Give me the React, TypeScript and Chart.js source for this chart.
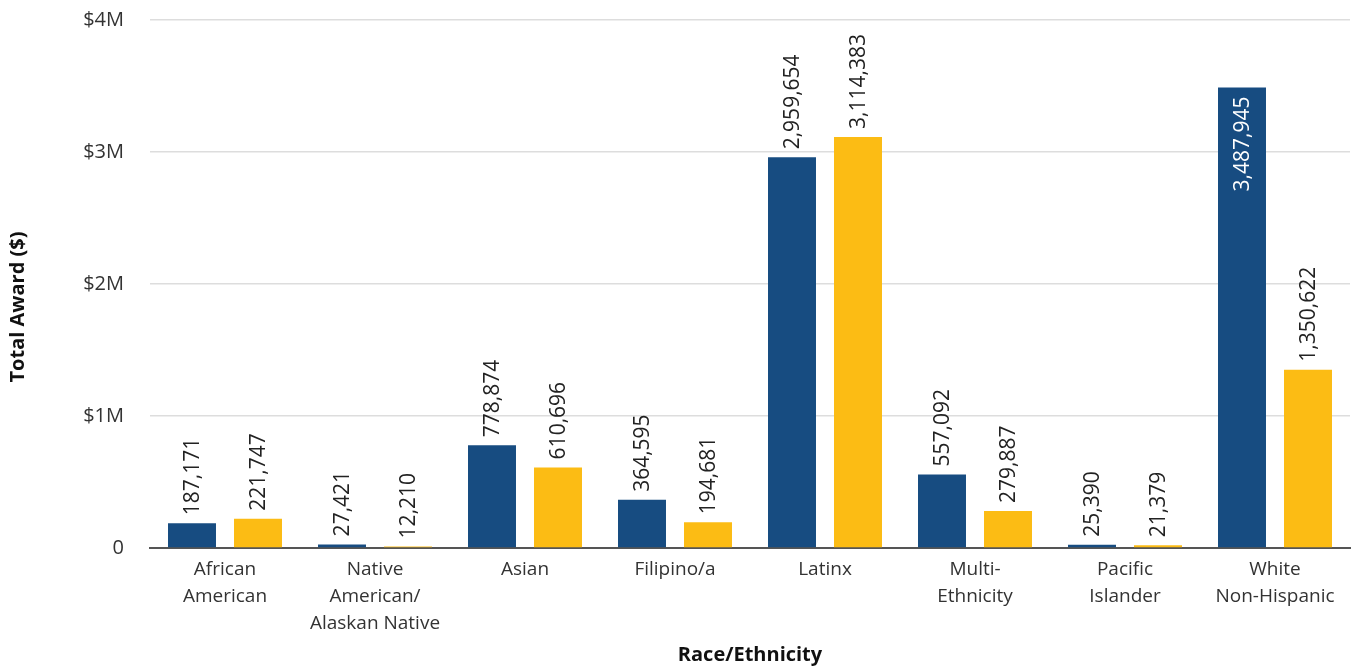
import React, { useEffect, useRef } from "react";
import { Chart, registerables } from "chart.js";

Chart.register(...registerables);

const categories: string[][] = [
  ["African", "American"],
  ["Native", "American/", "Alaskan Native"],
  ["Asian"],
  ["Filipino/a"],
  ["Latinx"],
  ["Multi-", "Ethnicity"],
  ["Pacific", "Islander"],
  ["White", "Non-Hispanic"],
];
const seriesNavy: number[] = [187171, 27421, 778874, 364595, 2959654, 557092, 25390, 3487945];
const seriesGold: number[] = [221747, 12210, 610696, 194681, 3114383, 279887, 21379, 1350622];
const yTickValues: number[] = [0, 1000000, 2000000, 3000000, 4000000];
const yTickLabels: string[] = ["0", "$1M", "$2M", "$3M", "$4M"];
const xTitle = "Race/Ethnicity";
const yTitle = "Total Award ($)";

const NAVY = "#174c81";
const GOLD = "#fcbc14";
const FONT = "'Open Sans', 'Noto Sans', sans-serif";

const labelPlugin = {
  id: "barLabels",
  afterDatasetsDraw(chart: any) {
    const ctx = chart.ctx;
    const area = chart.chartArea;
    ctx.save();
    ctx.font = `400 21px ${FONT}`;
    ctx.textBaseline = "middle";
    chart.data.datasets.forEach((ds: any, di: number) => {
      const meta = chart.getDatasetMeta(di);
      meta.data.forEach((bar: any, i: number) => {
        const v = ds.data[i] as number;
        const text = v.toLocaleString("en-US");
        const w = ctx.measureText(text).width;
        ctx.save();
        if (bar.y - 8 - w < area.top) {
          ctx.translate(bar.x, bar.y + 9);
          ctx.rotate(-Math.PI / 2);
          ctx.textAlign = "right";
          ctx.fillStyle = "#ffffff";
        } else {
          ctx.translate(bar.x, bar.y - 8);
          ctx.rotate(-Math.PI / 2);
          ctx.textAlign = "left";
          ctx.fillStyle = "#222222";
        }
        ctx.fillText(text, 0, 1);
        ctx.restore();
      });
    });
    ctx.restore();
  },
  afterDraw(chart: any) {
    const ctx = chart.ctx;
    const area = chart.chartArea;
    ctx.save();
    ctx.fillStyle = "#111111";
    ctx.font = `700 20px ${FONT}`;
    ctx.textAlign = "center";
    ctx.textBaseline = "middle";
    ctx.fillText(xTitle, (area.left + area.right) / 2, 655);
    ctx.translate(18, 307);
    ctx.rotate(-Math.PI / 2);
    ctx.fillText(yTitle, 0, 0);
    ctx.restore();
  },
};

export default function App() {
  const ref = useRef<HTMLCanvasElement | null>(null);
  useEffect(() => {
    document.body.style.margin = "0";
    const chart = new Chart(ref.current as HTMLCanvasElement, {
      type: "bar",
      data: {
        labels: categories,
        datasets: [
          { label: "Navy", data: seriesNavy, backgroundColor: NAVY, barPercentage: 0.727, categoryPercentage: 0.88 },
          { label: "Gold", data: seriesGold, backgroundColor: GOLD, barPercentage: 0.727, categoryPercentage: 0.88 },
        ],
      },
      options: {
        animation: false,
        responsive: false,
        maintainAspectRatio: false,
        layout: { padding: { top: 20, right: 5, left: 0, bottom: 0 } },
        plugins: { legend: { display: false }, tooltip: { enabled: false } },
        scales: {
          x: {
            grid: { display: false },
            border: { display: true, color: "#555555", width: 2 },
            ticks: {
              color: "#333333",
              font: { family: FONT, size: 19, lineHeight: 1.42 },
              padding: 0,
              maxRotation: 0,
              autoSkip: false,
            },
            afterFit: (scale: any) => {
              scale.height = 122;
              scale.paddingTop = 0;
              scale.paddingBottom = 0;
            },
          },
          y: {
            min: 0,
            max: 4000000,
            grid: { color: "#dddddd", lineWidth: 1.5, drawTicks: false },
            border: { display: false },
            afterBuildTicks: (scale: any) => {
              scale.ticks = yTickValues.map((v) => ({ value: v }));
            },
            ticks: {
              color: "#333333",
              font: { family: FONT, size: 20 },
              padding: 26,
              callback: (v: any) => {
                const idx = yTickValues.indexOf(Number(v));
                return idx >= 0 ? yTickLabels[idx] : "";
              },
            },
            afterFit: (scale: any) => {
              scale.width = 150;
              scale.paddingTop = 0;
              scale.paddingBottom = 0;
            },
          },
        },
      },
      plugins: [labelPlugin],
    });
    return () => chart.destroy();
  }, []);
  return (
    <div style={{ width: 1355, height: 670, background: "#ffffff" }}>
      <canvas ref={ref} width={1355} height={670} style={{ display: "block" }} />
    </div>
  );
}
